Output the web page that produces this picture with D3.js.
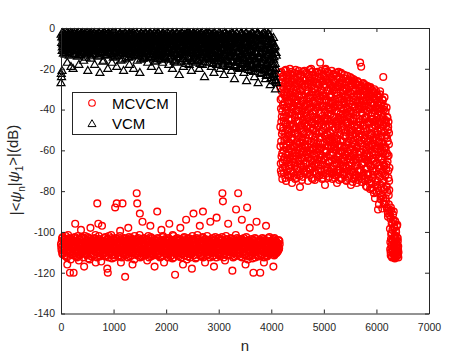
<!DOCTYPE html>
<html><head><meta charset="utf-8">
<script src="https://cdnjs.cloudflare.com/ajax/libs/d3/7.8.5/d3.min.js"></script>
<style>html,body{margin:0;padding:0;background:#fff;} svg{display:block;}</style>
</head><body><svg id="chart" width="474" height="355"></svg>
<script>
// ---------------- data ----------------
const xTicks = [0,1000,2000,3000,4000,5000,6000,7000];
const yTicks = [-140,-120,-100,-80,-60,-40,-20,0];
const seriesNames = ["MCVCM","VCM"];

// VCM, sampled indices: n = start + i*step
const vcmStartA = 0, vcmStepA = 10;
const vcmDbA = [
-27,-24,-21,-8,-5,-11,-3,-7,-13,-4,-9,-6,-17,-3,-10,-5,-12,-8,-4,-19,
-6,-11,-3,-20,-9,-5,-13,-7,-4,-10,-3,-14,-8,-6,-18,-4,-11,-5,-9,-3,
-12,-7,-4,-16,-5,-10,-3,-8,-13,-6,-4,-21,-9,-5,-11,-3,-7,-15,-4,-10,
-6,-3,-13,-8,-18,-5,-11,-4,-9,-7,-3,-14,-6,-10,-22,-4,-8,-12,-5,-3,
-9,-16,-4,-7,-11,-3,-6,-13,-5,-20,-8,-4,-10,-3,-12,-7,-5,-17,-9,-4,
-6,-11,-3,-14,-8,-5,-19,-10,-4,-7,-13,-3,-9,-6,-16,-5,-12,-4,-8,-21,
-3,-10,-6,-15,-4,-9,-12,-5,-7,-3,-18,-11,-4,-8,-14,-6,-3,-10,-20,-5,
-9,-4,-13,-7,-3,-16,-6,-11,-5,-8,-22,-4,-12,-3,-10,-7,-15,-5,-9,-4,
-14,-6,-3,-11,-8,-17,-5,-10,-4,-13,-7,-3,-19,-9,-6,-12,-4,-15,-8,-5,
-10,-3,-16,-7,-12,-5,-21,-9,-4,-14,-6,-11,-3,-17,-8,-5,-13,-4,-10,-7,
-15,-3,-9,-12,-6,-18,-4,-11,-7,-14,-5,-3,-20,-8,-10,-4,-16,-6,-13,-3,
-9,-17,-5,-11,-4,-23,-7,-13,-3,-10,-15,-6,-8,-19,-4,-12,-5,-16,-9,-3,
-11,-6,-14,-4,-18,-8,-3,-12,-21,-5,-9,-15,-7,-4,-13,-10,-17,-3,-6,-11,
-16,-4,-8,-20,-12,-5,-14,-3,-10,-18,-7,-13,-4,-24,-9,-6,-15,-11,-3,-8,
-13,-5,-17,-9,-4,-12,-19,-7,-15,-3,-10,-22,-6,-14,-8,-4,-18,-11,-5,-16,
-7,-13,-3,-20,-9,-15,-5,-11,-17,-4,-23,-8,-14,-6,-12,-3,-19,-10,-16,-5,
-9,-18,-4,-13,-21,-7,-11,-16,-3,-14,-25,-6,-10,-19,-5,-12,-17,-8,-4,-15,
-20,-6,-13,-9,-18,-3,-15,-11,-22,-7,-16,-5,-12,-26,-9,-4,-19,-14,-8,-17,
-11,-21,-5,-15,-9,-18,-4,-13,-24,-7,-16,-12,-20,-3,-10,-27,-14,-6,-19,-8,
-17,-12,-22,-5,-15,-9,-20,-13,-4,-25,-11,-18,-7,-23,-14,-3,-19,-10,-28,-16,
-8,-21,-13,-26,-10,-18,-24,-12,-30,-20,-27
];
const vcmStartB = 5, vcmStepB = 10;
const vcmDbB = [
-22.5,-4.5,-9.5,-2.5,-12.5,-6.5,-3.5,-10.5,-5.5,-8.5,-2.5,-11.5,-4.5,-7.5,-3.5,-13.5,-5.5,-9.5,-2.5,-6.5,
-10.5,-3.5,-7.5,-12.5,-4.5,-2.5,-8.5,-5.5,-11.5,-3.5,-6.5,-9.5,-2.5,-13.5,-4.5,-7.5,-10.5,-3.5,-5.5,-12.5,
-2.5,-8.5,-4.5,-11.5,-6.5,-3.5,-9.5,-14.5,-5.5,-2.5,-7.5,-10.5,-3.5,-12.5,-4.5,-8.5,-6.5,-2.5,-11.5,-5.5,
-9.5,-3.5,-7.5,-2.5,-12.5,-5.5,-10.5,-4.5,-8.5,-3.5,-13.5,-6.5,-2.5,-9.5,-4.5,-11.5,-7.5,-3.5,-5.5,-16.5,
-4.5,-10.5,-2.5,-7.5,-13.5,-5.5,-3.5,-9.5,-6.5,-11.5,-2.5,-8.5,-4.5,-12.5,-3.5,-7.5,-10.5,-5.5,-2.5,-14.5,
-8.5,-3.5,-11.5,-5.5,-2.5,-9.5,-6.5,-13.5,-4.5,-7.5,-3.5,-12.5,-2.5,-10.5,-5.5,-8.5,-15.5,-3.5,-6.5,-11.5,
-4.5,-9.5,-2.5,-12.5,-7.5,-3.5,-10.5,-5.5,-14.5,-2.5,-8.5,-6.5,-11.5,-3.5,-13.5,-4.5,-9.5,-2.5,-7.5,-12.5,
-5.5,-3.5,-10.5,-8.5,-2.5,-13.5,-6.5,-4.5,-11.5,-3.5,-9.5,-15.5,-2.5,-7.5,-12.5,-5.5,-3.5,-10.5,-6.5,-14.5,
-2.5,-8.5,-12.5,-4.5,-10.5,-3.5,-7.5,-14.5,-5.5,-2.5,-11.5,-6.5,-9.5,-3.5,-13.5,-4.5,-8.5,-2.5,-16.5,-6.5,
-11.5,-3.5,-7.5,-13.5,-2.5,-9.5,-5.5,-12.5,-4.5,-8.5,-15.5,-3.5,-6.5,-10.5,-2.5,-14.5,-7.5,-4.5,-11.5,-5.5,
-3.5,-12.5,-8.5,-2.5,-10.5,-6.5,-15.5,-4.5,-9.5,-3.5,-13.5,-7.5,-2.5,-11.5,-5.5,-16.5,-3.5,-8.5,-12.5,-6.5,
-2.5,-10.5,-14.5,-5.5,-7.5,-3.5,-12.5,-9.5,-4.5,-16.5,-2.5,-8.5,-11.5,-6.5,-3.5,-13.5,-10.5,-4.5,-17.5,-7.5,
-5.5,-2.5,-11.5,-8.5,-14.5,-3.5,-9.5,-6.5,-12.5,-4.5,-16.5,-2.5,-10.5,-7.5,-3.5,-15.5,-5.5,-12.5,-8.5,-2.5,
-13.5,-6.5,-3.5,-10.5,-17.5,-4.5,-8.5,-12.5,-2.5,-14.5,-5.5,-9.5,-3.5,-16.5,-7.5,-11.5,-2.5,-13.5,-6.5,-4.5,
-9.5,-15.5,-2.5,-7.5,-12.5,-3.5,-10.5,-5.5,-17.5,-4.5,-8.5,-13.5,-2.5,-11.5,-6.5,-15.5,-3.5,-9.5,-14.5,-5.5,
-2.5,-11.5,-7.5,-16.5,-4.5,-13.5,-3.5,-9.5,-18.5,-5.5,-12.5,-2.5,-8.5,-15.5,-6.5,-3.5,-11.5,-17.5,-4.5,-10.5,
-14.5,-3.5,-8.5,-12.5,-2.5,-16.5,-6.5,-10.5,-4.5,-18.5,-7.5,-3.5,-13.5,-9.5,-2.5,-15.5,-5.5,-11.5,-19.5,-4.5,
-7.5,-13.5,-2.5,-17.5,-10.5,-4.5,-14.5,-6.5,-3.5,-19.5,-8.5,-12.5,-2.5,-16.5,-5.5,-11.5,-20.5,-3.5,-9.5,-15.5,
-4.5,-18.5,-10.5,-2.5,-13.5,-7.5,-21.5,-3.5,-15.5,-9.5,-5.5,-17.5,-11.5,-2.5,-19.5,-6.5,-14.5,-3.5,-12.5,-22.5,
-8.5,-3.5,-16.5,-11.5,-20.5,-5.5,-14.5,-2.5,-18.5,-9.5,-23.5,-4.5,-13.5,-17.5,-6.5,-21.5,-10.5,-3.5,-15.5,-24.5,
-5.5,-12.5,-19.5,-7.5,-15.5,-22.5,-9.5,-17.5,-25.5,-13.5
];
const vcmStartC = 2, vcmStepC = 10;
const vcmDbC = [
-3.2,-7.2,-11.2,-4.2,-9.2,-2.8,-6.2,-12.2,-5.2,-8.2,-3.8,-10.2,-4.8,-7.8,-2.8,-11.8,-6.8,-3.2,-9.8,-5.8,
-8.8,-2.8,-6.2,-10.8,-4.2,-12.8,-3.2,-7.2,-9.2,-5.2,-2.8,-11.2,-6.8,-3.8,-8.2,-4.8,-13.2,-2.8,-7.8,-10.2,
-4.2,-9.8,-3.2,-6.8,-12.2,-2.8,-8.8,-5.2,-11.8,-3.8,-7.2,-10.8,-4.8,-2.8,-9.2,-6.2,-13.8,-3.2,-8.2,-5.8,
-11.2,-3.8,-7.8,-2.8,-10.2,-5.2,-8.8,-3.2,-12.8,-6.2,-4.2,-9.8,-2.8,-7.2,-11.8,-4.8,-3.2,-10.8,-6.8,-5.8,
-2.8,-8.2,-12.2,-4.2,-6.8,-3.2,-10.2,-5.8,-13.2,-2.8,-7.8,-9.2,-3.8,-11.2,-5.2,-8.8,-2.8,-12.8,-4.8,-7.2,
-9.8,-3.2,-6.2,-11.8,-2.8,-8.2,-4.2,-13.8,-7.2,-3.8,-10.2,-5.2,-2.8,-12.2,-6.8,-9.2,-3.2,-11.2,-4.8,-8.8,
-5.8,-10.8,-2.8,-7.8,-12.8,-3.8,-9.2,-4.2,-6.2,-14.2,-3.2,-8.2,-11.8,-2.8,-5.2,-10.2,-7.2,-3.8,-13.2,-6.8,
-3.2,-9.8,-5.8,-12.2,-2.8,-7.2,-11.2,-4.2,-8.8,-3.8,-13.8,-6.2,-2.8,-10.8,-5.2,-8.2,-3.2,-14.8,-6.8,-4.8,
-11.8,-2.8,-7.8,-4.2,-10.2,-6.2,-3.2,-12.8,-8.8,-2.8,-5.8,-14.2,-3.8,-9.2,-6.8,-11.2,-4.8,-2.8,-8.2,-13.2,
-4.2,-8.8,-12.2,-3.2,-6.2,-15.2,-2.8,-10.2,-5.2,-7.8,-3.8,-13.8,-9.2,-2.8,-6.8,-11.8,-4.2,-8.2,-3.2,-14.2,
-7.2,-3.8,-11.2,-5.8,-2.8,-9.8,-14.8,-4.8,-8.2,-3.2,-12.2,-6.2,-2.8,-10.8,-7.8,-4.2,-15.8,-3.8,-9.2,-5.2,
-12.8,-2.8,-6.8,-10.2,-4.2,-13.2,-3.2,-8.8,-5.8,-11.8,-2.8,-15.2,-7.2,-4.8,-9.8,-3.2,-12.2,-6.2,-2.8,-10.2,
-3.8,-8.2,-14.2,-5.2,-2.8,-11.2,-7.8,-4.2,-16.2,-6.8,-3.2,-9.2,-12.8,-2.8,-5.8,-13.8,-8.8,-3.8,-10.8,-4.8,
-9.2,-15.8,-3.2,-6.2,-11.8,-2.8,-8.2,-13.2,-4.2,-7.2,-16.8,-3.8,-10.2,-5.2,-2.8,-12.2,-6.8,-9.8,-3.2,-14.2,
-5.8,-2.8,-10.8,-7.8,-15.2,-4.2,-12.8,-3.2,-8.8,-17.2,-5.2,-2.8,-11.2,-6.2,-13.8,-3.8,-9.2,-16.2,-4.8,-7.2,
-12.2,-4.2,-8.2,-2.8,-14.8,-6.8,-10.2,-3.2,-17.8,-5.8,-9.8,-2.8,-13.2,-7.2,-4.2,-15.8,-11.2,-3.8,-8.8,-6.2,
-3.2,-13.8,-6.8,-10.8,-4.2,-16.8,-2.8,-9.2,-12.2,-5.2,-18.2,-3.8,-7.8,-14.2,-2.8,-11.8,-6.2,-15.2,-4.8,-9.8,
-16.2,-5.8,-2.8,-12.8,-8.2,-3.2,-17.2,-10.2,-4.2,-14.8,-6.8,-2.8,-11.2,-19.2,-5.2,-8.8,-3.8,-15.8,-12.2,-7.2,
-3.2,-10.8,-17.8,-5.8,-13.2,-2.8,-8.2,-19.8,-4.2,-11.8,-15.2,-6.2,-3.2,-16.8,-9.8,-2.8,-13.8,-7.8,-20.2,-4.8,
-12.8,-3.8,-18.2,-8.8,-2.8,-15.8,-6.2,-21.2,-10.2,-3.2,-17.2,-5.2,-13.2,-2.8,-19.8,-8.2,-11.2,-4.2,-22.2,-14.8,
-6.8,-17.8,-10.8,-23.2,-4.8,-14.2,-20.8,-8.8,-26.2,-12.2
];

// MCVCM, low band
const mcvcmLowStartA = 0, mcvcmLowStepA = 10;
const mcvcmLowDbA = [
-106,-109,-103,-111,-107,-104,-110,-105,-108,-102,-112,-106,-116,-104,-109,-107,-103,-120,-110,-105,
-108,-104,-111,-106,-120,-103,-109,-96,-107,-112,-105,-110,-102,-108,-114,-106,-104,-111,-99,-107,
-103,-110,-106,-108,-117,-105,-102,-109,-111,-104,-107,-106,-113,-103,-108,-110,-98,-105,-112,-107,
-104,-109,-106,-111,-103,-108,-115,-105,-110,-86,-107,-96,-102,-109,-112,-106,-104,-108,-97,-111,
-105,-110,-103,-107,-112,-106,-109,-104,-118,-120,-108,-102,-111,-105,-107,-110,-103,-113,-106,-109,
-104,-108,-111,-88,-106,-103,-86,-110,-105,-109,-112,-107,-102,-106,-115,-104,-108,-86,-111,-105,
-107,-103,-122,-109,-106,-111,-104,-108,-98,-110,-105,-112,-106,-103,-109,-107,-116,-104,-110,-106,
-102,-108,-111,-105,-81,-86,-107,-103,-110,-106,-91,-109,-104,-112,-107,-95,-105,-110,-103,-108,
-106,-111,-104,-109,-114,-107,-102,-110,-105,-108,-97,-112,-106,-103,-109,-111,-105,-107,-117,-104,
-110,-106,-108,-90,-103,-111,-105,-109,-107,-112,-104,-99,-106,-110,-102,-108,-115,-105,-109,-107,
-104,-111,-106,-108,-103,-110,-96,-105,-112,-107,-109,-104,-113,-106,-102,-110,-108,-121,-105,-111,
-107,-103,-109,-106,-112,-104,-110,-98,-108,-105,-111,-107,-116,-103,-109,-106,-104,-110,-94,-108,
-105,-112,-107,-103,-109,-106,-111,-104,-108,-118,-102,-110,-91,-107,-105,-109,-113,-106,-103,-111,
-108,-104,-110,-106,-97,-109,-112,-105,-107,-103,-90,-111,-106,-108,-115,-104,-110,-107,-102,-109,
-106,-111,-104,-108,-95,-110,-105,-107,-112,-103,-109,-117,-106,-104,-110,-108,-93,-105,-111,-107,
-103,-109,-106,-112,-104,-110,-107,-81,-85,-105,-108,-111,-114,-106,-102,-109,-104,-110,-96,-107,
-105,-111,-108,-103,-109,-106,-119,-104,-110,-107,-112,-105,-108,-89,-106,-103,-110,-81,-107,-104,
-109,-112,-106,-108,-94,-104,-110,-107,-103,-111,-105,-116,-108,-106,-88,-109,-104,-112,-107,-98,
-105,-110,-106,-108,-113,-104,-120,-109,-107,-103,-111,-106,-95,-108,-110,-105,-112,-107,-104,-120,
-108,-106,-111,-103,-109,-105,-115,-107,-110,-104,-97,-108,-112,-106,-103,-109,-107,-111,-105,-108,
-106,-110,-104,-109,-117,-107,-103,-111,-106,-108,-105,-110,-107,-109,-104,-108,-106
];
const mcvcmLowStartB = 5, mcvcmLowStepB = 10;
const mcvcmLowDbB = [
-107.5,-104.5,-110.5,-102.5,-108.5,-105.5,-111.5,-103.5,-106.5,-109.5,-104.5,-112.5,-107.5,-101.5,-110.5,-105.5,-108.5,-103.5,-113.5,-106.5,
-103.5,-109.5,-106.5,-111.5,-104.5,-107.5,-102.5,-110.5,-105.5,-108.5,-112.5,-104.5,-106.5,-109.5,-103.5,-111.5,-107.5,-105.5,-110.5,-102.5,
-109.5,-105.5,-112.5,-107.5,-103.5,-110.5,-106.5,-104.5,-108.5,-111.5,-102.5,-106.5,-109.5,-105.5,-113.5,-107.5,-103.5,-110.5,-104.5,-108.5,
-105.5,-111.5,-103.5,-108.5,-106.5,-101.5,-109.5,-107.5,-112.5,-104.5,-110.5,-105.5,-108.5,-103.5,-111.5,-106.5,-114.5,-104.5,-109.5,-107.5,
-110.5,-104.5,-108.5,-106.5,-102.5,-111.5,-105.5,-109.5,-103.5,-107.5,-112.5,-106.5,-104.5,-110.5,-108.5,-101.5,-105.5,-111.5,-107.5,-103.5,
-106.5,-112.5,-104.5,-109.5,-107.5,-103.5,-110.5,-105.5,-108.5,-111.5,-104.5,-106.5,-99.5,-109.5,-103.5,-112.5,-107.5,-105.5,-110.5,-104.5,
-108.5,-103.5,-111.5,-106.5,-104.5,-109.5,-107.5,-112.5,-105.5,-102.5,-110.5,-106.5,-108.5,-104.5,-111.5,-103.5,-107.5,-109.5,-105.5,-113.5,
-104.5,-110.5,-106.5,-108.5,-103.5,-111.5,-105.5,-109.5,-107.5,-101.5,-112.5,-104.5,-110.5,-106.5,-108.5,-103.5,-111.5,-105.5,-107.5,-109.5,
-111.5,-105.5,-108.5,-103.5,-110.5,-106.5,-104.5,-112.5,-107.5,-109.5,-102.5,-106.5,-110.5,-104.5,-108.5,-111.5,-103.5,-107.5,-105.5,-110.5,
-106.5,-109.5,-104.5,-111.5,-107.5,-103.5,-110.5,-105.5,-112.5,-108.5,-104.5,-106.5,-109.5,-102.5,-111.5,-107.5,-105.5,-110.5,-103.5,-108.5,
-109.5,-104.5,-107.5,-112.5,-105.5,-110.5,-103.5,-108.5,-106.5,-111.5,-104.5,-109.5,-101.5,-107.5,-112.5,-105.5,-110.5,-106.5,-103.5,-108.5,
-105.5,-111.5,-108.5,-104.5,-110.5,-106.5,-103.5,-109.5,-112.5,-107.5,-105.5,-110.5,-104.5,-108.5,-102.5,-111.5,-106.5,-109.5,-104.5,-113.5,
-110.5,-106.5,-103.5,-109.5,-105.5,-112.5,-107.5,-104.5,-110.5,-108.5,-106.5,-103.5,-111.5,-105.5,-109.5,-107.5,-104.5,-112.5,-106.5,-101.5,
-107.5,-103.5,-110.5,-105.5,-108.5,-111.5,-104.5,-106.5,-109.5,-102.5,-112.5,-107.5,-105.5,-110.5,-103.5,-108.5,-106.5,-111.5,-104.5,-109.5,
-104.5,-109.5,-106.5,-112.5,-107.5,-103.5,-110.5,-105.5,-108.5,-111.5,-104.5,-106.5,-109.5,-102.5,-107.5,-112.5,-105.5,-110.5,-108.5,-103.5,
-111.5,-105.5,-108.5,-104.5,-110.5,-106.5,-102.5,-109.5,-107.5,-112.5,-104.5,-110.5,-106.5,-108.5,-103.5,-111.5,-105.5,-109.5,-107.5,-104.5,
-108.5,-104.5,-111.5,-106.5,-103.5,-109.5,-105.5,-112.5,-107.5,-110.5,-104.5,-106.5,-101.5,-109.5,-105.5,-111.5,-107.5,-103.5,-110.5,-106.5,
-105.5,-110.5,-107.5,-103.5,-112.5,-106.5,-109.5,-104.5,-108.5,-111.5,-105.5,-107.5,-102.5,-110.5,-106.5,-113.5,-104.5,-108.5,-111.5,-105.5,
-109.5,-106.5,-103.5,-111.5,-107.5,-105.5,-110.5,-104.5,-108.5,-112.5,-106.5,-103.5,-109.5,-107.5,-105.5,-111.5,-104.5,-110.5,-106.5,-108.5,
-104.5,-111.5,-107.5,-105.5,-109.5,-103.5,-112.5,-106.5,-108.5,-110.5,-104.5,-107.5,-111.5,-105.5,-109.5,-106.5,-102.5,-110.5,-108.5,-104.5,
-107.5,-110.5,-105.5,-109.5,-103.5,-111.5,-106.5,-108.5,-104.5,-110.5,-107.5,-105.5,-109.5,-106.5,-108.5,-104.5
];

// MCVCM, high cluster
const mcvcmHighStartA = 4170, mcvcmHighStepA = 4;
const mcvcmHighDbA = [
-22,-58,-35,-70,-27,-46,-63,-31,-52,-41,-74,-24,-66,-38,-49,-29,-60,-44,-71,-33,
-55,-21,-68,-39,-47,-26,-62,-34,-75,-43,-57,-23,-50,-65,-30,-72,-37,-53,-25,-61,
-45,-69,-28,-56,-36,-64,-20,-48,-73,-32,-59,-42,-26,-67,-51,-34,-76,-23,-54,-40,
-63,-30,-47,-71,-25,-58,-38,-66,-22,-52,-44,-74,-29,-61,-35,-49,-69,-27,-57,-41,
-24,-60,-37,-72,-46,-28,-65,-53,-21,-43,-70,-33,-56,-39,-78,-26,-62,-48,-31,-67,
-50,-23,-64,-41,-55,-30,-73,-36,-59,-45,-25,-68,-52,-34,-61,-21,-47,-71,-38,-57,
-29,-66,-43,-54,-22,-70,-35,-62,-48,-27,-58,-40,-75,-31,-51,-64,-24,-44,-69,-37,
-60,-33,-72,-26,-49,-57,-39,-20,-65,-46,-31,-53,-68,-23,-42,-74,-36,-59,-28,-50,
-41,-67,-25,-55,-37,-63,-47,-30,-71,-22,-58,-44,-34,-66,-52,-27,-61,-39,-73,-45,
-32,-56,-70,-24,-48,-62,-36,-28,-54,-42,-17,-69,-30,-59,-45,-21,-65,-51,-38,-74,
-57,-26,-43,-67,-33,-72,-49,-23,-60,-40,-64,-29,-53,-77,-35,-46,-20,-61,-44,-68,
-25,-63,-38,-52,-70,-31,-58,-45,-22,-66,-36,-54,-27,-73,-48,-40,-62,-24,-56,-34,
-69,-42,-28,-59,-47,-21,-65,-37,-55,-74,-30,-50,-61,-26,-44,-71,-39,-57,-23,-64,
-35,-53,-72,-29,-46,-66,-22,-60,-41,-54,-76,-33,-48,-25,-63,-38,-70,-44,-27,-58,
-46,-24,-63,-38,-71,-29,-55,-42,-67,-22,-50,-35,-74,-58,-27,-44,-61,-33,-69,-48,
-31,-65,-40,-53,-23,-72,-36,-59,-45,-28,-68,-51,-25,-62,-39,-75,-47,-30,-56,-43,
-70,-34,-57,-26,-49,-64,-41,-73,-29,-53,-37,-66,-24,-60,-45,-32,-77,-51,-27,-63,
-42,-58,-28,-71,-36,-50,-65,-25,-55,-44,-74,-31,-61,-39,-68,-48,-27,-57,-35,-72,
-53,-30,-66,-43,-76,-37,-59,-26,-49,-70,-33,-62,-46,-28,-56,-73,-40,-64,-31,-52,
-17,-61,-38,-70,-45,-19,-55,-29,-67,-42,-74,-33,-58,-48,-27,-64,-36,-71,-51,-40,
-66,-31,-54,-44,-75,-28,-60,-38,-69,-49,-34,-62,-78,-41,-56,-29,-72,-46,-36,-65,
-39,-58,-30,-74,-47,-63,-35,-79,-52,-29,-68,-43,-57,-33,-76,-49,-61,-37,-70,-45,
-55,-32,-72,-46,-64,-38,-81,-51,-30,-67,-42,-59,-35,-77,-48,-62,-31,-70,-54,-40,
-66,-44,-33,-75,-52,-89,-38,-61,-47,-80,-34,-69,-56,-41,-73,-31,-58,-84,-49,-64,
-37,-71,-53,-42,-82,-60,-35,-76,-48,-66,-24,-57,-86,-40,-68,-51,-34,-79,-62,-45,
-72,-41,-59,-85,-48,-67,-39,-78,-54,-88,-44,-63,-91,-50,-70,-46,-82,-57,-75,-90
];
const mcvcmHighStartB = 4172, mcvcmHighStepB = 4;
const mcvcmHighDbB = [
-48.5,-29.5,-66.5,-39.5,-55.5,-21.5,-71.5,-43.5,-34.5,-61.5,-25.5,-50.5,-68.5,-37.5,-57.5,-23.5,-45.5,-64.5,-31.5,-53.5,
-36.5,-63.5,-27.5,-51.5,-73.5,-41.5,-20.5,-58.5,-46.5,-32.5,-69.5,-24.5,-54.5,-40.5,-62.5,-28.5,-49.5,-72.5,-35.5,-59.5,
-26.5,-52.5,-41.5,-67.5,-33.5,-56.5,-47.5,-22.5,-63.5,-38.5,-70.5,-29.5,-54.5,-44.5,-21.5,-60.5,-36.5,-65.5,-48.5,-31.5,
-57.5,-38.5,-23.5,-64.5,-49.5,-33.5,-72.5,-42.5,-58.5,-27.5,-67.5,-36.5,-51.5,-20.5,-62.5,-45.5,-30.5,-73.5,-40.5,-55.5,
-35.5,-69.5,-51.5,-29.5,-58.5,-40.5,-22.5,-65.5,-45.5,-33.5,-61.5,-26.5,-72.5,-49.5,-37.5,-56.5,-23.5,-68.5,-42.5,-53.5,
-63.5,-32.5,-47.5,-74.5,-27.5,-54.5,-39.5,-60.5,-21.5,-50.5,-66.5,-35.5,-43.5,-70.5,-28.5,-57.5,-38.5,-25.5,-62.5,-46.5,
-41.5,-58.5,-25.5,-66.5,-37.5,-48.5,-60.5,-30.5,-71.5,-44.5,-22.5,-55.5,-34.5,-63.5,-47.5,-27.5,-69.5,-52.5,-39.5,-20.5,
-52.5,-24.5,-61.5,-42.5,-69.5,-34.5,-55.5,-46.5,-28.5,-73.5,-38.5,-21.5,-59.5,-49.5,-31.5,-65.5,-43.5,-26.5,-56.5,-70.5,
-29.5,-61.5,-47.5,-36.5,-74.5,-23.5,-53.5,-40.5,-66.5,-32.5,-50.5,-71.5,-26.5,-45.5,-59.5,-37.5,-21.5,-64.5,-48.5,-34.5,
-67.5,-44.5,-27.5,-59.5,-38.5,-72.5,-51.5,-22.5,-63.5,-33.5,-46.5,-56.5,-24.5,-70.5,-41.5,-30.5,-58.5,-47.5,-26.5,-62.5,
-38.5,-50.5,-73.5,-31.5,-56.5,-23.5,-64.5,-44.5,-35.5,-69.5,-27.5,-52.5,-41.5,-20.5,-60.5,-48.5,-33.5,-71.5,-25.5,-54.5,
-60.5,-35.5,-21.5,-68.5,-44.5,-52.5,-30.5,-73.5,-39.5,-57.5,-26.5,-47.5,-65.5,-33.5,-55.5,-22.5,-70.5,-42.5,-51.5,-29.5,
-45.5,-57.5,-32.5,-71.5,-24.5,-53.5,-40.5,-62.5,-28.5,-48.5,-67.5,-36.5,-22.5,-58.5,-43.5,-69.5,-30.5,-54.5,-38.5,-73.5,
-26.5,-64.5,-49.5,-37.5,-59.5,-31.5,-72.5,-45.5,-23.5,-66.5,-40.5,-55.5,-28.5,-69.5,-51.5,-34.5,-61.5,-21.5,-47.5,-74.5,
-57.5,-34.5,-69.5,-27.5,-52.5,-44.5,-73.5,-31.5,-60.5,-39.5,-22.5,-65.5,-48.5,-36.5,-71.5,-25.5,-55.5,-42.5,-63.5,-30.5,
-67.5,-43.5,-24.5,-58.5,-37.5,-70.5,-49.5,-29.5,-62.5,-53.5,-33.5,-74.5,-41.5,-26.5,-57.5,-46.5,-68.5,-35.5,-23.5,-60.5,
-39.5,-61.5,-46.5,-73.5,-31.5,-55.5,-25.5,-67.5,-43.5,-35.5,-59.5,-50.5,-71.5,-28.5,-64.5,-40.5,-54.5,-24.5,-69.5,-47.5,
-30.5,-66.5,-52.5,-37.5,-75.5,-45.5,-26.5,-62.5,-41.5,-56.5,-33.5,-70.5,-48.5,-25.5,-60.5,-38.5,-73.5,-51.5,-29.5,-64.5,
-72.5,-41.5,-27.5,-58.5,-47.5,-32.5,-67.5,-54.5,-36.5,-74.5,-26.5,-50.5,-63.5,-39.5,-70.5,-44.5,-29.5,-60.5,-53.5,-35.5,
-47.5,-33.5,-69.5,-56.5,-28.5,-63.5,-41.5,-75.5,-37.5,-52.5,-30.5,-66.5,-44.5,-59.5,-35.5,-72.5,-49.5,-27.5,-62.5,-54.5,
-38.5,-73.5,-47.5,-29.5,-64.5,-52.5,-35.5,-77.5,-43.5,-58.5,-31.5,-68.5,-50.5,-40.5,-61.5,-28.5,-74.5,-55.5,-33.5,-66.5,
-71.5,-46.5,-32.5,-62.5,-54.5,-39.5,-76.5,-29.5,-59.5,-44.5,-67.5,-36.5,-52.5,-78.5,-41.5,-64.5,-30.5,-57.5,-48.5,-73.5,
-44.5,-65.5,-36.5,-79.5,-53.5,-31.5,-70.5,-47.5,-60.5,-40.5,-83.5,-34.5,-57.5,-74.5,-45.5,-66.5,-38.5,-52.5,-80.5,-32.5,
-59.5,-36.5,-78.5,-50.5,-42.5,-71.5,-33.5,-63.5,-55.5,-86.5,-39.5,-67.5,-46.5,-32.5,-76.5,-53.5,-44.5,-82.5,-37.5,-60.5,
-50.5,-78.5,-39.5,-64.5,-56.5,-88.5,-43.5,-70.5,-35.5,-61.5,-83.5,-47.5,-74.5,-38.5,-58.5,-67.5,-45.5,-86.5,-53.5,-72.5,
-58.5,-83.5,-46.5,-69.5,-77.5,-52.5,-88.5,-61.5,-43.5,-80.5,-65.5,-55.5,-92.5,-48.5,-73.5,-62.5,-86.5,-51.5,-79.5,-68.5
];

// MCVCM, tail
const mcvcmTailStartA = 6260, mcvcmTailStepA = 5;
const mcvcmTailDbA = [
-92,-105,-110,-88,-101,-108,-96,-112,-104,-99,-109,-94,-106,-111,-90,-103,-107,-98,-113,-102,
-95,-110,-105,-100,-108,-112,-97,-106,-109,-103,-111,-107,-110
];
const mcvcmTailStartB = 6257, mcvcmTailStepB = 5;
const mcvcmTailDbB = [
-98.5,-108.5,-93.5,-111.5,-103.5,-89.5,-106.5,-100.5,-112.5,-95.5,-109.5,-104.5,-91.5,-107.5,-110.5,-97.5,-105.5,
-112.5,-101.5,-94.5,-108.5,-103.5,-111.5,-99.5,-106.5,-110.5,-102.5,-109.5,-96.5,-111.5,-104.5,-108.5,-112.5
];

// ---------------- build points ----------------
const seg = (arr, start, step) => arr.map((v,i)=>({n: start + i*step, v}));
const vcmPts = [].concat(
  seg(vcmDbA, vcmStartA, vcmStepA),
  seg(vcmDbB, vcmStartB, vcmStepB),
  seg(vcmDbC, vcmStartC, vcmStepC)
).sort((a,b)=>a.n-b.n);
const mcvcmPts = [].concat(
  seg(mcvcmLowDbA, mcvcmLowStartA, mcvcmLowStepA),
  seg(mcvcmLowDbB, mcvcmLowStartB, mcvcmLowStepB),
  seg(mcvcmHighDbA, mcvcmHighStartA, mcvcmHighStepA),
  seg(mcvcmHighDbB, mcvcmHighStartB, mcvcmHighStepB),
  seg(mcvcmTailDbA, mcvcmTailStartA, mcvcmTailStepA),
  seg(mcvcmTailDbB, mcvcmTailStartB, mcvcmTailStepB)
).sort((a,b)=>a.n-b.n);

// ---------------- drawing ----------------
const L = 61, R = 429, T = 28, B = 313.5;
const FONT = "'Liberation Sans', Arial, Helvetica, sans-serif";
const AX = "#262626";

const svg = d3.select("#chart");
const x = d3.scaleLinear().domain([0,7000]).range([L,R]);
const y = d3.scaleLinear().domain([-140,0]).range([B,T]);

const tri = "M0,-4.3L4,2.6L-4,2.6Z";
svg.append("g").selectAll("circle").data(mcvcmPts).join("circle")
  .attr("cx", d=>x(d.n)).attr("cy", d=>y(d.v)).attr("r", 3.35)
  .attr("fill","none").attr("stroke","#ff0000").attr("stroke-width",1.4);

svg.append("g").selectAll("path").data(vcmPts).join("path")
  .attr("d", tri).attr("transform", d=>`translate(${x(d.n)},${y(d.v)})`)
  .attr("fill","none").attr("stroke","#000").attr("stroke-width",1.2);

function styleAxis(g){
  g.select(".domain").attr("stroke", AX).attr("stroke-width",1);
  g.selectAll(".tick line").attr("stroke", AX);
  g.selectAll(".tick text").attr("fill", AX).style("font-family", FONT).style("font-size","10.5px");
}
svg.append("g").attr("transform",`translate(0,${B})`)
  .call(d3.axisBottom(x).tickValues(xTicks).tickSizeInner(-4).tickSizeOuter(0).tickPadding(10).tickFormat(d3.format("d")))
  .call(styleAxis);
svg.append("g").attr("transform",`translate(${L},0)`)
  .call(d3.axisLeft(y).tickValues(yTicks).tickSizeInner(-4).tickSizeOuter(0).tickPadding(6).tickFormat(d=>d===0?"0":"-"+Math.abs(d)))
  .call(styleAxis);
svg.append("g").attr("transform",`translate(0,${T})`)
  .call(d3.axisTop(x).tickValues(xTicks).tickSizeInner(-4).tickSizeOuter(0).tickFormat(""))
  .call(styleAxis);
svg.append("g").attr("transform",`translate(${R},0)`)
  .call(d3.axisRight(y).tickValues(yTicks).tickSizeInner(-4).tickSizeOuter(0).tickFormat(""))
  .call(styleAxis);

svg.append("text").attr("x",(L+R)/2).attr("y",351).attr("text-anchor","middle")
  .style("font-family",FONT).style("font-size","15px").attr("fill",AX).text("n");

const yl = svg.append("text").attr("transform","translate(21,170) rotate(-90)")
  .attr("text-anchor","middle").style("font-family",FONT).style("font-size","15px").attr("fill",AX);
yl.append("tspan").text("|<");
yl.append("tspan").style("font-style","italic").text("ψ");
yl.append("tspan").attr("dy","0.35em").style("font-size","10px").text("n");
yl.append("tspan").attr("dy","-0.35em").text("|");
yl.append("tspan").style("font-style","italic").text("ψ");
yl.append("tspan").attr("dy","0.35em").style("font-size","10px").text("1");
yl.append("tspan").attr("dy","-0.35em").text(">|(dB)");

const lg = svg.append("g");
lg.append("rect").attr("x",72.5).attr("y",92.5).attr("width",104).attr("height",42)
  .attr("fill","#fff").attr("stroke",AX).attr("stroke-width",1);
lg.append("circle").attr("cx",92).attr("cy",103).attr("r",3.3)
  .attr("fill","none").attr("stroke","#ff0000").attr("stroke-width",1.1);
lg.append("path").attr("d",tri).attr("transform","translate(92,124)")
  .attr("fill","none").attr("stroke","#000").attr("stroke-width",1);
lg.append("text").attr("x",112).attr("y",108.5).style("font-family",FONT).style("font-size","15px")
  .attr("fill","#000").text(seriesNames[0]);
lg.append("text").attr("x",112).attr("y",129).style("font-family",FONT).style("font-size","15px")
  .attr("fill","#000").text(seriesNames[1]);
</script></body></html>
